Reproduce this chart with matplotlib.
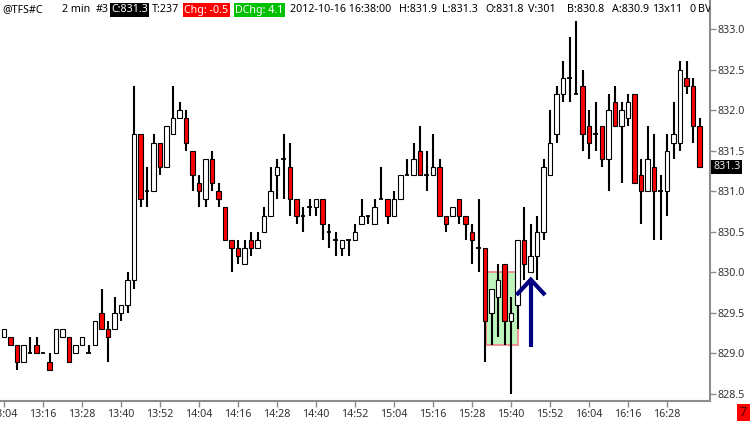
import matplotlib
matplotlib.use("Agg")
import matplotlib.pyplot as plt
import matplotlib.patches as mpatches

# 2-minute bars, 13:04 .. 16:38
opens = [829.2, 829.2, 829.1, 828.9, 829.0, 829.1, 829.0, 828.9, 829.0, 829.2,
         829.2, 829.0, 829.1, 829.0, 829.1, 829.5, 829.3, 829.3, 829.5, 829.6,
         829.9, 831.7, 831.0, 831.0, 831.6, 831.3, 831.7, 831.9, 831.9, 831.5,
         831.1, 830.9, 831.4, 831.0, 830.8, 830.4, 830.3, 830.1, 830.4, 830.3,
         830.5, 830.7, 831.2, 831.4, 831.3, 830.9, 830.7, 830.8, 830.8, 830.9,
         830.5, 830.4, 830.3, 830.4, 830.4, 830.6, 830.7, 830.6, 830.9, 830.9,
         830.7, 830.9, 831.2, 831.2, 831.5, 831.2, 831.2, 831.3, 830.7, 830.7,
         830.9, 830.7, 830.5, 830.3, 830.3, 829.5, 829.7, 830.1, 829.4, 829.6,
         830.4, 830.0, 830.2, 830.5, 831.2, 831.7, 832.2, 832.4, 832.2, 832.3,
         831.8, 831.7, 831.8, 831.4, 832.1, 831.8, 831.9, 832.2, 831.2, 831.0,
         831.3, 831.0, 831.0, 831.6, 831.6, 832.4, 832.3, 831.8]
highs = [829.3, 829.2, 829.1, 829.1, 829.2, 829.2, 829.0, 829.0, 829.3, 829.3,
         829.2, 829.1, 829.2, 829.1, 829.4, 829.8, 829.4, 829.7, 829.6, 830.0,
         832.3, 831.7, 831.3, 831.7, 831.6, 831.8, 832.3, 832.1, 832.0, 831.5,
         831.2, 831.4, 831.5, 831.1, 830.8, 830.4, 830.4, 830.4, 830.5, 830.5,
         830.8, 831.3, 831.4, 831.7, 831.6, 830.9, 830.8, 830.9, 830.9, 830.9,
         830.6, 830.5, 830.4, 830.4, 830.6, 830.9, 830.7, 830.9, 831.3, 830.9,
         831.0, 831.2, 831.4, 831.6, 831.8, 831.5, 831.7, 831.4, 830.7, 830.8,
         830.9, 830.7, 830.6, 830.9, 830.3, 829.8, 830.1, 830.1, 829.7, 830.4,
         830.8, 830.6, 830.7, 831.4, 832.0, 832.3, 832.6, 832.9, 833.1, 832.5,
         832.0, 832.1, 831.8, 832.2, 832.3, 832.1, 832.2, 832.2, 831.4, 831.8,
         831.7, 831.2, 831.7, 832.1, 832.6, 832.6, 832.4, 831.9]
lows = [829.2, 829.1, 828.8, 828.9, 829.0, 829.0, 829.0, 828.8, 829.0, 829.2,
        828.9, 829.0, 829.1, 829.0, 829.1, 829.3, 828.9, 829.3, 829.4, 829.5,
        829.8, 830.8, 830.8, 831.0, 831.2, 831.3, 831.7, 831.9, 831.5, 831.0,
        830.8, 830.8, 831.0, 830.8, 830.4, 830.0, 830.1, 830.1, 830.2, 830.3,
        830.5, 830.7, 830.9, 830.9, 830.7, 830.6, 830.5, 830.7, 830.7, 830.4,
        830.3, 830.2, 830.2, 830.2, 830.4, 830.6, 830.6, 830.6, 830.9, 830.6,
        830.7, 830.9, 831.2, 831.2, 831.2, 831.0, 831.2, 830.7, 830.5, 830.7,
        830.6, 830.4, 830.1, 830.0, 828.9, 829.1, 829.2, 829.1, 828.5, 829.3,
        829.9, 830.0, 829.9, 830.4, 831.2, 831.6, 832.1, 832.1, 832.2, 831.5,
        831.4, 831.5, 831.3, 831.0, 831.8, 831.1, 831.8, 831.1, 830.6, 831.0,
        830.4, 830.4, 830.7, 831.4, 831.5, 832.2, 831.6, 831.3]
closes = [829.3, 829.1, 828.9, 829.1, 829.0, 829.0, 829.0, 828.8, 829.3, 829.3,
          828.9, 829.1, 829.2, 829.0, 829.4, 829.3, 829.2, 829.5, 829.6, 829.9,
          831.7, 830.9, 831.0, 831.6, 831.3, 831.8, 831.9, 832.0, 831.6, 831.2,
          831.0, 831.4, 831.1, 830.9, 830.4, 830.3, 830.2, 830.3, 830.3, 830.4,
          830.7, 831.0, 831.3, 831.4, 830.9, 830.7, 830.7, 830.8, 830.9, 830.6,
          830.5, 830.4, 830.4, 830.4, 830.5, 830.7, 830.7, 830.8, 830.9, 830.7,
          830.9, 831.2, 831.2, 831.4, 831.2, 831.2, 831.3, 830.7, 830.6, 830.8,
          830.7, 830.6, 830.4, 830.3, 829.4, 829.8, 829.9, 829.4, 829.5, 830.4,
          830.1, 830.2, 830.5, 831.3, 831.6, 832.2, 832.4, 832.4, 832.2, 831.7,
          831.6, 831.7, 831.4, 832.0, 831.8, 832.0, 832.1, 831.1, 831.0, 831.4,
          831.0, 831.0, 831.5, 831.7, 832.5, 832.3, 831.8, 831.3]

tick_labels = ["13:04", "13:16", "13:28", "13:40", "13:52", "14:04", "14:16",
               "14:28", "14:40", "14:52", "15:04", "15:16", "15:28", "15:40",
               "15:52", "16:04", "16:16", "16:28"]
y_ticks = [828.5, 829.0, 829.5, 830.0, 830.5, 831.0, 831.5, 832.0, 832.5, 833.0]
last_price = 831.3

# annotation: highlighted zone and arrow
zone_x = (74.15, 79.1)
zone_y = (829.1, 830.0)
arrow_x = 81.03
arrow_tail, arrow_tip = 829.08, 829.91
arrow_wing_dx, arrow_wing_y = 2.2, 829.72

header = [
    (2, "@TFS#C", None), (62, "2 min", None), (96, "#3", None),
    (111, "C:831.3", "black"), (152, "T:237", None),
    (184, "Chg: -0.5", "#ff0000"), (235, "DChg: 4.1", "#00c000"),
    (290, "2012-10-16 16:38:00", None), (399, "H:831.9", None),
    (442, "L:831.3", None), (485, "O:831.8", None), (528, "V:301", None),
    (567, "B:830.8", None), (612, "A:830.9", None), (652, "13x11", None),
    (690, "0", None), (698, "BV:1", None),
]

W, H = 750, 421
plt.rcParams["font.family"] = ["Noto Sans", "DejaVu Sans"]


def main():
    fig = plt.figure(figsize=(W / 100, H / 100), dpi=100)
    ax = fig.add_axes([0, 20 / H, 710 / W, 401 / H])

    n = len(opens)
    xs = list(range(n))
    body_w = 0.72

    ax.vlines(xs, lows, highs, color="black", lw=1.5, zorder=2)
    for i in xs:
        o, c = opens[i], closes[i]
        if abs(c - o) < 1e-9:
            ax.hlines(o, i - body_w / 2, i + body_w / 2, color="black", lw=1.3, zorder=3)
            continue
        face = "white" if c > o else "#ff0000"
        ax.bar(i, abs(c - o), bottom=min(o, c), width=body_w, color=face,
               edgecolor="black", linewidth=0.8, zorder=3)

    ax.add_patch(mpatches.Rectangle((zone_x[0], zone_y[0]), zone_x[1] - zone_x[0],
                                    zone_y[1] - zone_y[0], facecolor="#bdf5bd",
                                    edgecolor="#f08c8c", lw=1.3, zorder=1))
    navy = "#000080"
    ax.plot([arrow_x, arrow_x], [arrow_tail, arrow_tip], color=navy, lw=3,
            solid_capstyle="butt", zorder=5)
    ax.plot([arrow_x - arrow_wing_dx, arrow_x, arrow_x + arrow_wing_dx],
            [arrow_wing_y, arrow_tip, arrow_wing_y], color=navy, lw=3,
            solid_joinstyle="miter", solid_capstyle="butt", zorder=5)

    ax.set_xlim(-0.615, 108.6)
    ax.set_ylim(828.413, 833.358)

    ax.set_xticks(range(0, n, 6))
    ax.set_xticklabels(tick_labels)
    ax.set_yticks(y_ticks)
    ax.set_yticklabels([f"{v:.1f}" for v in y_ticks])
    ax.yaxis.tick_right()

    for side in ("left", "top"):
        ax.spines[side].set_visible(False)
    for side in ("right", "bottom"):
        ax.spines[side].set_color("#8c8c8c")
        ax.spines[side].set_linewidth(1.5)
    ax.tick_params(axis="both", colors="#8c8c8c", labelcolor="#333333",
                   labelsize=7.7, length=4, width=1)
    ax.tick_params(axis="y", pad=1.5)
    ax.tick_params(axis="x", pad=2)

    # current price tag on the axis
    ax.text(713 / 710, last_price, f"{last_price:.1f}", transform=ax.get_yaxis_transform(),
            ha="left", va="center", color="#e8e8e8", fontsize=7.7, clip_on=False,
            bbox=dict(facecolor="black", edgecolor="none", pad=1.2))

    # header line, clipped at the price axis
    for x, txt, bg in header:
        kw = {}
        if bg is not None:
            kw["bbox"] = dict(facecolor=bg, edgecolor="none", pad=1.0)
        ax.text(x / 710, 1 - 10 / 401, txt, transform=ax.transAxes, ha="left",
                va="center", fontsize=7.7, color="white" if bg else "black",
                clip_on=True, zorder=6, **kw)

    fig.text(743.5 / W, 8 / H, "7", ha="center", va="center", fontsize=9,
             color="#400000", bbox=dict(facecolor="#ff0000", edgecolor="none", pad=2.2))

    fig.savefig("out.png", dpi=100)


if __name__ == "__main__":
    main()
